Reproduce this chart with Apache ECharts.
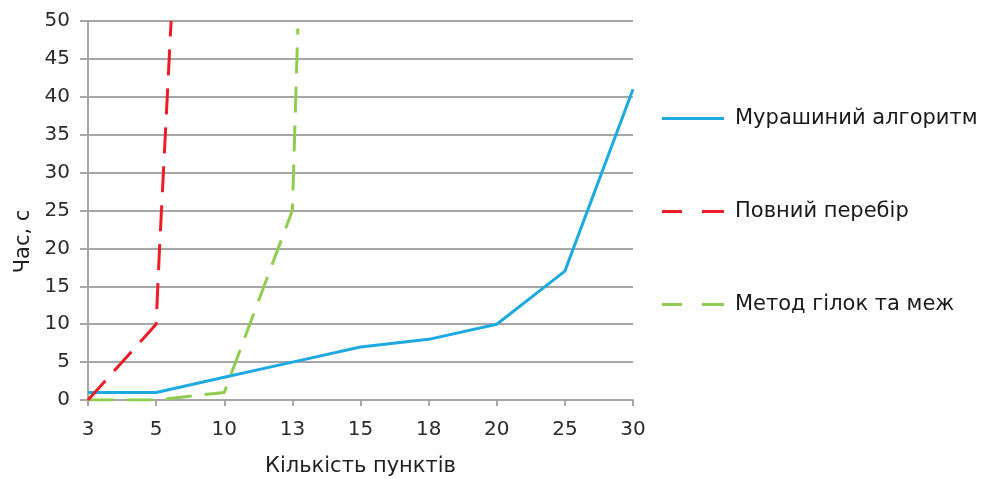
<!DOCTYPE html>
<html>
<head>
<meta charset="utf-8">
<script src="https://cdn.jsdelivr.net/npm/echarts@6/dist/echarts.min.js"></script>
<style>html,body{margin:0;padding:0;background:#fff;}#c{width:992px;height:479px;}</style>
</head>
<body>
<div id="c"></div>
<script>
// Category labels (x positions are category indices 0..8)
var categories = ['3', '5', '10', '13', '15', '18', '20', '25', '30'];
var seriesNames = ['Мурашиний алгоритм', 'Повний перебір', 'Метод гілок та меж'];
// [category index, seconds]
var antData = [[0, 1], [1, 1], [2, 3], [3, 5], [4, 7], [5, 8], [6, 10], [7, 17], [8, 41]];
var bruteData = [[0, 0], [1, 10], [1.05, 20], [1.22, 50]];
var branchData = [[0, 0], [1, 0], [2, 1], [3, 25], [3.08, 49]];
var yTicks = [0, 5, 10, 15, 20, 25, 30, 35, 40, 45, 50];

var font = '"DejaVu Sans", sans-serif';
var solidIcon = 'path://M0,0H62V3H0Z';
var dashIcon = 'path://M0,0H20V3H0Z M40,0H62V3H40Z';
var chart = echarts.init(document.getElementById('c'));
chart.setOption({
  animation: false,
  backgroundColor: '#fff',
  grid: { left: 88, right: 359, top: 21, bottom: 79, containLabel: false, outerBoundsMode: 'none' },
  legend: {
    orient: 'vertical',
    left: 657,
    top: 103,
    itemWidth: 62,
    itemHeight: 3,
    itemGap: 72,
    textStyle: { fontFamily: font, fontSize: 21, color: '#1a1a1a', padding: [0, 0, 0, 6] },
    data: [
      { name: seriesNames[0], icon: solidIcon },
      { name: seriesNames[1], icon: dashIcon },
      { name: seriesNames[2], icon: dashIcon }
    ]
  },
  xAxis: {
    type: 'value',
    min: 0, max: categories.length - 1, interval: 1,
    name: 'Кількість пунктів',
    nameLocation: 'middle',
    nameGap: 56,
    nameTextStyle: { fontFamily: font, fontSize: 21, color: '#1f1f1f' },
    axisLine: { show: true, onZero: false, lineStyle: { color: '#a6a6a6', width: 2 } },
    axisTick: { show: true, length: 6, lineStyle: { color: '#a6a6a6', width: 2 } },
    axisLabel: { fontFamily: font, fontSize: 20, color: '#2b2b2b', margin: 20,
      formatter: function (v) { return categories[Math.round(v)] || ''; } },
    splitLine: { show: false }
  },
  yAxis: {
    type: 'value',
    min: yTicks[0], max: yTicks[yTicks.length - 1], interval: 5,
    name: 'Час, с',
    nameLocation: 'middle',
    nameGap: 54,
    nameRotate: 90,
    nameTextStyle: { fontFamily: font, fontSize: 21, color: '#1f1f1f', padding: [0, 62, 0, 0] },
    axisLine: { show: true, lineStyle: { color: '#a6a6a6', width: 2 } },
    axisTick: { show: true, length: 8, lineStyle: { color: '#a6a6a6', width: 2 } },
    axisLabel: { fontFamily: font, fontSize: 20, color: '#2b2b2b', margin: 18 },
    splitLine: { show: true, lineStyle: { color: '#a6a6a6', width: 2 } }
  },
  series: [
    { name: seriesNames[0], type: 'line', data: antData, symbol: 'none',
      lineStyle: { color: '#1fa9e1', width: 3 }, itemStyle: { color: '#1fa9e1' }, z: 3 },
    { name: seriesNames[1], type: 'line', data: bruteData, symbol: 'none',
      lineStyle: { color: '#ee1c25', width: 3, type: [26, 13] }, itemStyle: { color: '#ee1c25' }, z: 4 },
    { name: seriesNames[2], type: 'line', data: branchData, symbol: 'none',
      lineStyle: { color: '#8fcd4f', width: 3, type: [26, 13] }, itemStyle: { color: '#8fcd4f' }, z: 2 }
  ]
});
</script>
</body>
</html>
